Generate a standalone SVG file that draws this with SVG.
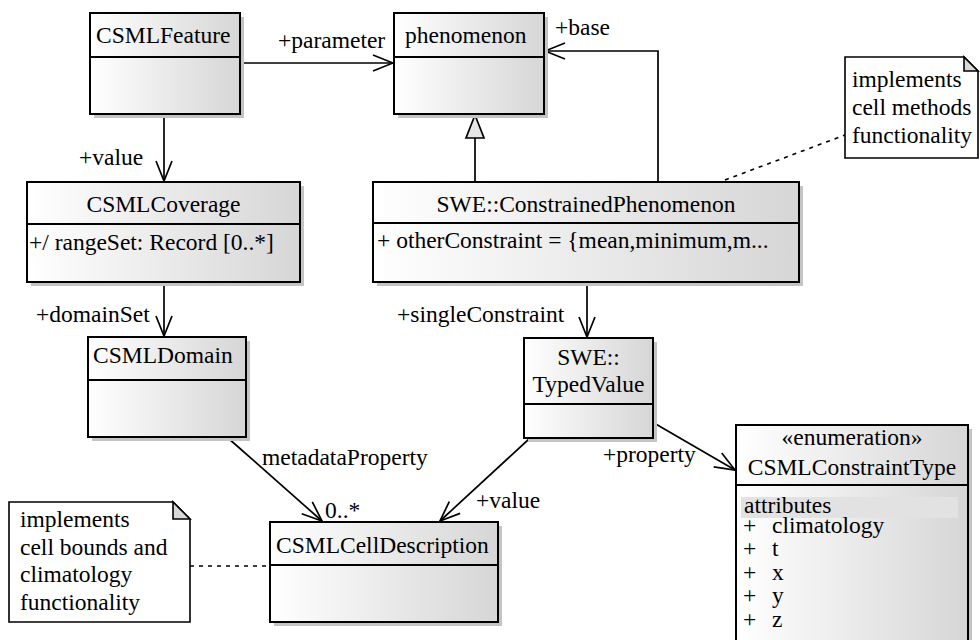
<svg xmlns="http://www.w3.org/2000/svg" width="980" height="640" viewBox="0 0 980 640">
<style>
text{font-family:"Liberation Serif","Tinos","DejaVu Serif",serif;font-size:23.5px;fill:#000}
.box{fill:url(#g);stroke:#000;stroke-width:2}
.sh{fill:#c4c4c4}
.div{stroke:#000;stroke-width:2}
.note{fill:#fff;stroke:#000;stroke-width:1.6}
.fold{fill:#d8d8d8;stroke:#000;stroke-width:1.6}
.c{fill:none;stroke:#000;stroke-width:1.7}
.d{fill:none;stroke:#000;stroke-width:1.6;stroke-dasharray:4 5}
.m{text-anchor:middle}
</style>
<defs>
<linearGradient id="g" x1="0" y1="0" x2="1" y2="0">
<stop offset="0" stop-color="#ffffff"/>
<stop offset="1" stop-color="#d6d6d6"/>
</linearGradient>
<marker id="a" markerUnits="userSpaceOnUse" markerWidth="24" markerHeight="20" viewBox="-22 -10 24 20" refX="0" refY="0" orient="auto">
<path d="M-20,-8 L0,0 L-20,8" fill="none" stroke="#000" stroke-width="1.7"/>
</marker>
</defs>

<g id="connectors">
<line class="c" x1="240" y1="63" x2="393" y2="63" marker-end="url(#a)"/>
<text x="278" y="48">+parameter</text>
<polyline class="c" points="658,182 658,51 545,51" marker-end="url(#a)"/>
<text x="555" y="35">+base</text>
<line class="c" x1="475" y1="182" x2="475" y2="138"/>
<polygon points="475,115 466,138 484,138" fill="#e6e6e6" stroke="#000" stroke-width="1.7"/>
<line class="c" x1="164" y1="114" x2="164" y2="181" marker-end="url(#a)"/>
<text x="79" y="165">+value</text>
<line class="c" x1="164" y1="282" x2="164" y2="336" marker-end="url(#a)"/>
<text x="36" y="322">+domainSet</text>
<line class="c" x1="587" y1="282" x2="587" y2="337" marker-end="url(#a)"/>
<text x="397" y="322">+singleConstraint</text>
<line class="c" x1="228" y1="438" x2="322" y2="521" marker-end="url(#a)"/>
<text x="262" y="465">metadataProperty</text>
<text x="325" y="518">0..*</text>
<line class="c" x1="529" y1="439" x2="440" y2="521" marker-end="url(#a)"/>
<text x="476" y="508">+value</text>
<line class="c" x1="654" y1="423" x2="735" y2="470" marker-end="url(#a)"/>
<text x="603" y="462">+property</text>
<line class="d" x1="725" y1="180" x2="845" y2="135"/>
<line class="d" x1="190" y1="566" x2="270" y2="566"/>
</g>

<g id="CSMLFeature">
<rect class="sh" x="94" y="17" width="150" height="101"/>
<rect class="box" x="90" y="13" width="150" height="101"/>
<line class="div" x1="90" y1="57" x2="240" y2="57"/>
<text x="96" y="43">CSMLFeature</text>
</g>

<g id="phenomenon">
<rect class="sh" x="398" y="17" width="150" height="101"/>
<rect class="box" x="394" y="13" width="150" height="101"/>
<line class="div" x1="394" y1="57" x2="544" y2="57"/>
<text x="405" y="43">phenomenon</text>
</g>

<g id="CSMLCoverage">
<rect class="sh" x="31" y="186" width="273" height="100"/>
<rect class="box" x="27" y="182" width="273" height="100"/>
<line class="div" x1="27" y1="224" x2="300" y2="224"/>
<text class="m" x="163.5" y="212">CSMLCoverage</text>
<text x="29" y="250">+/ rangeSet: Record [0..*]</text>
</g>

<g id="ConstrainedPhenomenon">
<rect class="sh" x="377" y="186" width="426" height="100"/>
<rect class="box" x="373" y="182" width="426" height="100"/>
<line class="div" x1="373" y1="223" x2="799" y2="223"/>
<text class="m" x="586" y="212">SWE::ConstrainedPhenomenon</text>
<text x="377" y="248">+ otherConstraint = {mean,minimum,m...</text>
</g>

<g id="CSMLDomain">
<rect class="sh" x="92" y="341" width="158" height="100"/>
<rect class="box" x="88" y="337" width="158" height="100"/>
<line class="div" x1="88" y1="380" x2="246" y2="380"/>
<text x="93" y="363">CSMLDomain</text>
</g>

<g id="TypedValue">
<rect class="sh" x="528" y="342" width="129" height="100"/>
<rect class="box" x="524" y="338" width="129" height="100"/>
<line class="div" x1="524" y1="404" x2="653" y2="404"/>
<text class="m" x="588.5" y="365">SWE::</text>
<text class="m" x="588.5" y="392">TypedValue</text>
</g>

<g id="CSMLCellDescription">
<rect class="sh" x="274" y="526" width="228" height="100"/>
<rect class="box" x="270" y="522" width="228" height="100"/>
<line class="div" x1="270" y1="565" x2="498" y2="565"/>
<text x="276" y="553">CSMLCellDescription</text>
</g>

<g id="CSMLConstraintType">
<rect class="sh" x="740" y="429" width="232" height="230"/>
<rect class="box" x="736" y="425" width="232" height="230"/>
<line class="div" x1="736" y1="485" x2="968" y2="485"/>
<text class="m" x="852" y="445">«enumeration»</text>
<text class="m" x="852" y="475">CSMLConstraintType</text>
<rect x="741" y="497" width="217" height="21" fill="#e2e2e2"/>
<text x="744" y="513">attributes</text>
<text x="743" y="533">+</text><text x="772" y="533">climatology</text>
<text x="743" y="556">+</text><text x="772" y="556">t</text>
<text x="743" y="580">+</text><text x="772" y="580">x</text>
<text x="743" y="603">+</text><text x="772" y="603">y</text>
<text x="743" y="627">+</text><text x="772" y="627">z</text>
</g>

<g id="note1">
<path class="note" d="M845,57 H964 L978,71 V158 H845 Z"/>
<path class="fold" d="M964,57 V71 H978 Z"/>
<text x="852" y="87">implements</text>
<text x="852" y="115">cell methods</text>
<text x="852" y="143">functionality</text>
</g>

<g id="note2">
<path class="note" d="M9,502 H173 L190,519 V622 H9 Z"/>
<path class="fold" d="M173,502 V519 H190 Z"/>
<text x="20" y="527">implements</text>
<text x="20" y="555">cell bounds and</text>
<text x="20" y="582">climatology</text>
<text x="20" y="610">functionality</text>
</g>
</svg>
